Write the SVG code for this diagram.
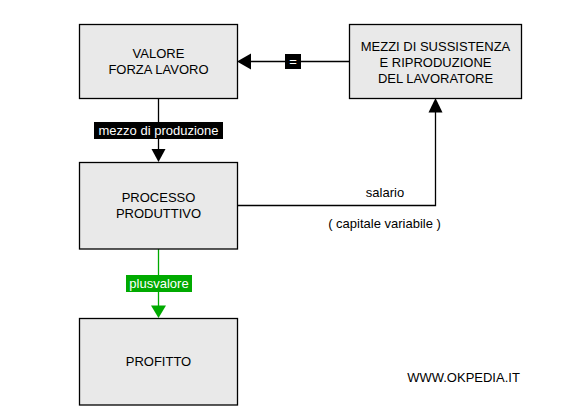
<svg xmlns="http://www.w3.org/2000/svg" width="578" height="415" viewBox="0 0 578 415">
<style>
.box{fill:#e9e9e9;stroke:#000;stroke-width:1.3}
.t{font-family:"Liberation Sans",Arial,sans-serif;font-size:13px;fill:#000;text-anchor:middle}
.w{fill:#fff}
.line{fill:none;stroke:#000;stroke-width:1.3}
.g{stroke:#00aa00}
</style>
<rect width="578" height="415" fill="#fff"/>
<g id="connectors">
  <line class="line" x1="349" y1="61.5" x2="250" y2="61.5"/>
  <polygon points="237,61.5 251,53.5 251,69.5" fill="#000"/>
  <rect x="285" y="54" width="16" height="15" fill="#000"/>
  <text class="t w" x="293" y="66">=</text>
  <line class="line" x1="158.5" y1="98" x2="158.5" y2="150"/>
  <polygon points="158.5,162 151.5,149 165.5,149" fill="#000"/>
  <rect x="94" y="122" width="129" height="17" fill="#000"/>
  <text class="t w" x="158.5" y="134.5">mezzo di produzione</text>
  <polyline class="line" points="237,205.5 435.5,205.5 435.5,112"/>
  <polygon points="435.5,98 428.5,112.5 442.5,112.5" fill="#000"/>
  <text class="t" x="385" y="196.5">salario</text>
  <text class="t" x="384.5" y="227.5">( capitale variabile )</text>
  <line class="line g" x1="158.5" y1="249" x2="158.5" y2="306"/>
  <polygon points="158.5,318 151,305.5 166,305.5" fill="#00aa00"/>
  <rect x="126" y="275" width="66" height="17" fill="#00aa00"/>
  <text class="t w" x="159" y="287.5">plusvalore</text>
</g>
<g id="valore">
  <rect class="box" x="79.5" y="24.5" width="158" height="74"/>
  <text class="t" x="158.5" y="57.5">VALORE</text>
  <text class="t" x="158.5" y="73.5">FORZA LAVORO</text>
</g>
<g id="mezzi">
  <rect class="box" x="349.5" y="24.5" width="172" height="74"/>
  <text class="t" x="435.5" y="51">MEZZI DI SUSSISTENZA</text>
  <text class="t" x="435.5" y="67">E RIPRODUZIONE</text>
  <text class="t" x="435.5" y="83">DEL LAVORATORE</text>
</g>
<g id="processo">
  <rect class="box" x="79.5" y="162.5" width="158" height="86.5"/>
  <text class="t" x="158.5" y="201.5">PROCESSO</text>
  <text class="t" x="158.5" y="218">PRODUTTIVO</text>
</g>
<g id="profitto">
  <rect class="box" x="79.5" y="318.5" width="158" height="86.5"/>
  <text class="t" x="158.5" y="366">PROFITTO</text>
</g>
<text class="t" x="463.5" y="381.5">WWW.OKPEDIA.IT</text>
</svg>
